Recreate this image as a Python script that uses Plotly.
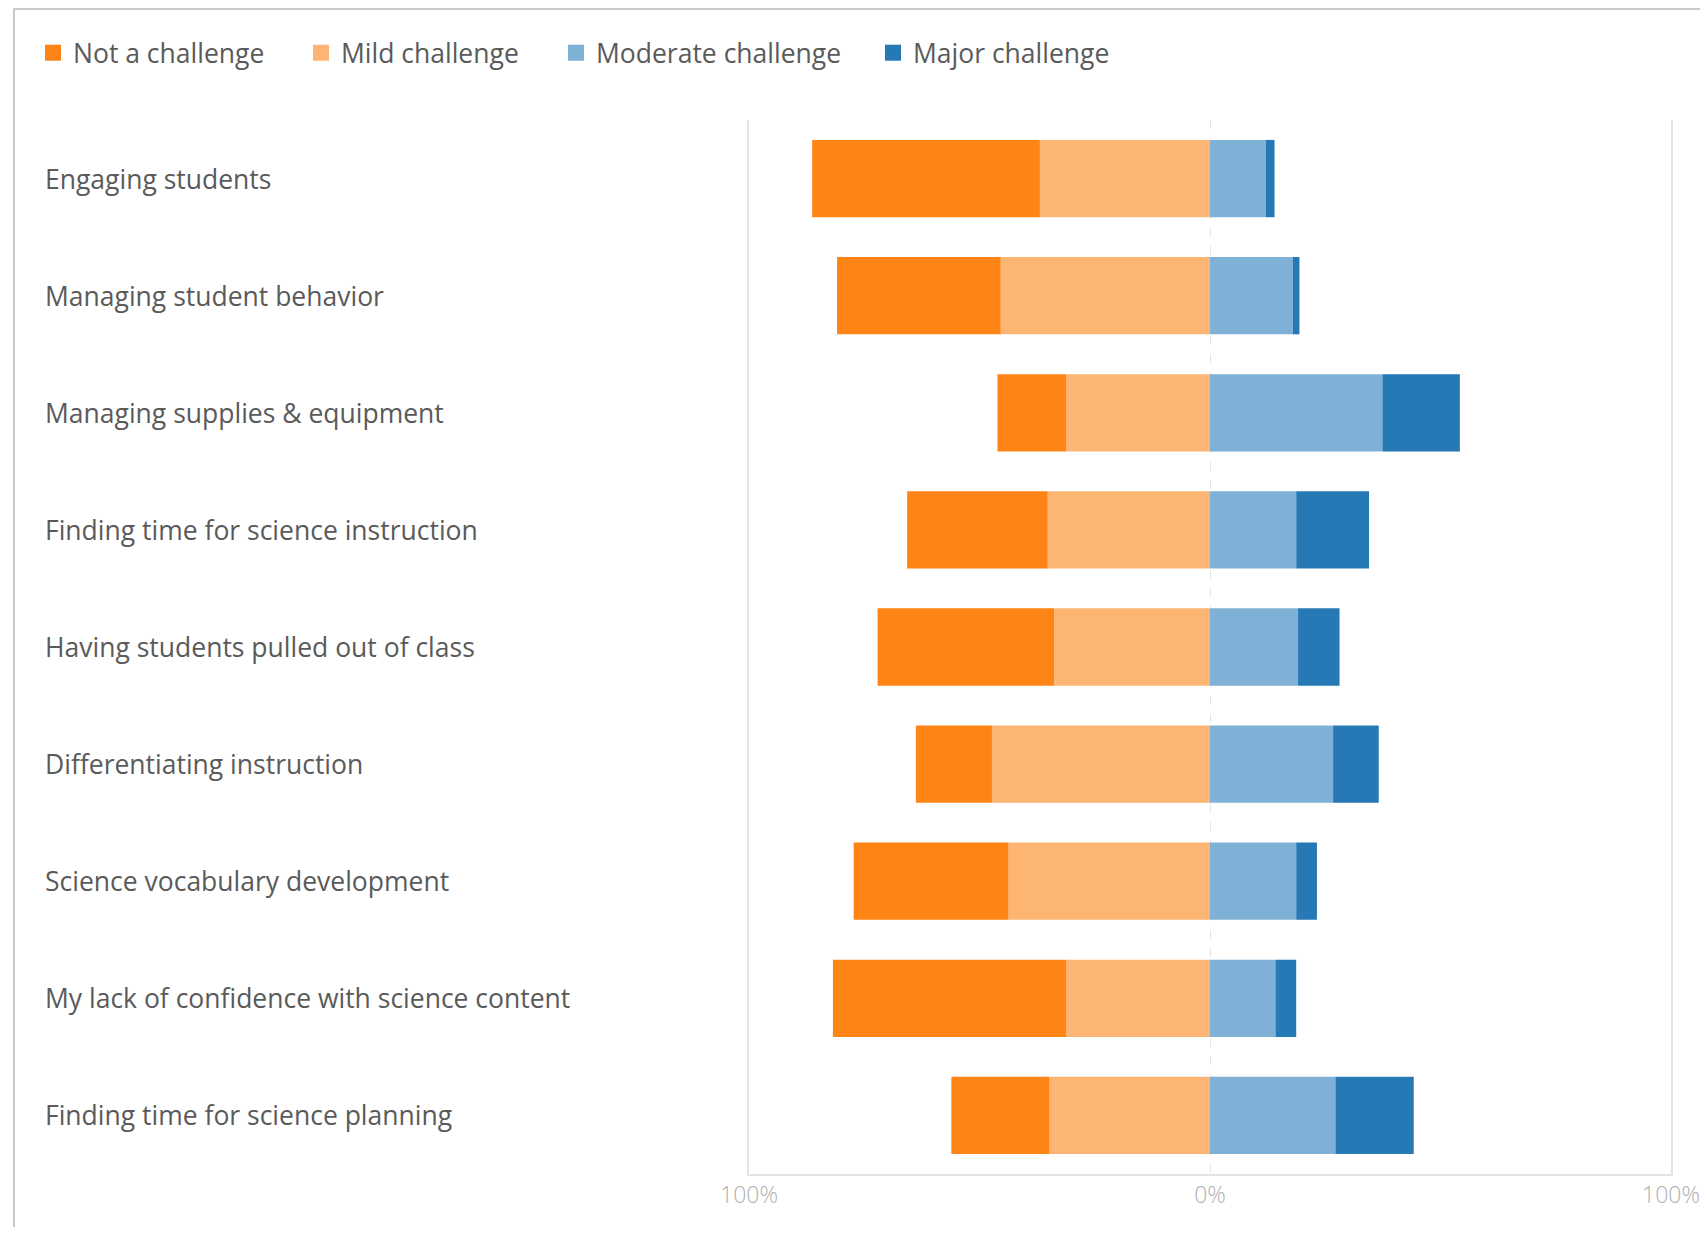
import plotly.graph_objects as go

categories = [
    "Engaging students",
    "Managing student behavior",
    "Managing supplies & equipment",
    "Finding time for science instruction",
    "Having students pulled out of class",
    "Differentiating instruction",
    "Science vocabulary development",
    "My lack of confidence with science content",
    "Finding time for science planning",
]
not_a_challenge = [49.4, 35.5, 14.9, 30.5, 38.3, 16.5, 33.6, 50.6, 21.3]
mild_challenge = [36.9, 45.4, 31.2, 35.2, 33.8, 47.3, 43.7, 31.2, 34.8]
moderate_challenge = [12.1, 18.0, 37.4, 18.7, 19.1, 26.7, 18.7, 14.2, 27.2]
major_challenge = [1.9, 1.4, 16.8, 15.8, 9.0, 9.9, 4.5, 4.5, 17.0]
series_names = ["Not a challenge", "Mild challenge", "Moderate challenge", "Major challenge"]
tick_vals = [-100, 0, 100]
tick_text = ["100%", "0%", "100%"]

C_NOT = "#FF8416"
C_MILD = "#FDB573"
C_MOD = "#7FB0D5"
C_MAJ = "#2779B5"
colors = [C_NOT, C_MILD, C_MOD, C_MAJ]

# page has an 8px body margin; figure fills the rest of the 1708x1235 window
OFF = 8
W, H = 1708 - 2 * OFF, 1235 - 2 * OFF
L = 749 - OFF
T = 120 - OFF
R = W - (1671 - OFF)
B = H - (1174 - OFF)
pw = W - L - R
ph = H - T - B

FONT = "Open Sans"
TXT = "#5a5a5a"
FS = 26.5


def px_x(x):
    return (x - OFF - L) / pw


def px_y(y):
    return (H - B - (y - OFF)) / ph


fig = go.Figure()
# negative side: the trace nearest zero must be added first
fig.add_trace(go.Bar(y=categories, x=[-v for v in mild_challenge], name=series_names[1],
                     orientation="h", marker=dict(color=C_MILD, line=dict(width=0)),
                     showlegend=False, customdata=mild_challenge,
                     hovertemplate="%{y}<br>Mild challenge: %{customdata}%<extra></extra>"))
fig.add_trace(go.Bar(y=categories, x=[-v for v in not_a_challenge], name=series_names[0],
                     orientation="h", marker=dict(color=C_NOT, line=dict(width=0)),
                     showlegend=False, customdata=not_a_challenge,
                     hovertemplate="%{y}<br>Not a challenge: %{customdata}%<extra></extra>"))
fig.add_trace(go.Bar(y=categories, x=moderate_challenge, name=series_names[2],
                     orientation="h", marker=dict(color=C_MOD, line=dict(width=0)),
                     showlegend=False,
                     hovertemplate="%{y}<br>Moderate challenge: %{x}%<extra></extra>"))
fig.add_trace(go.Bar(y=categories, x=major_challenge, name=series_names[3],
                     orientation="h", marker=dict(color=C_MAJ, line=dict(width=0)),
                     showlegend=False,
                     hovertemplate="%{y}<br>Major challenge: %{x}%<extra></extra>"))

# legend entries (square swatches), each in its own legend box
legend_keys = ["legend", "legend2", "legend3", "legend4"]
legend_left = [45, 313, 568, 885]  # page px of swatch left edge
for name, col, key in zip(series_names, colors, legend_keys):
    fig.add_trace(go.Scatter(x=[None], y=[None], mode="markers", name=name,
                             marker=dict(symbol="square", size=16, color=col),
                             legend=key, showlegend=True, hoverinfo="skip"))

legend_layout = {}
for key, lx in zip(legend_keys, legend_left):
    legend_layout[key] = dict(
        orientation="h", x=px_x(lx - 12), xanchor="left",
        y=px_y(53), yanchor="middle",
        font=dict(family=FONT, size=FS, color=TXT),
        itemwidth=30, bgcolor="rgba(0,0,0,0)", borderwidth=0,
        itemclick=False, itemdoubleclick=False,
    )

annotations = []
for c in categories:
    annotations.append(dict(
        x=0, xref="paper", y=c, yref="y", text=c, showarrow=False,
        xanchor="left", yanchor="middle", xshift=(46 - OFF) - L - 3,
        font=dict(family=FONT, size=FS, color=TXT),
    ))

fig.update_layout(
    width=W, height=H,
    margin=dict(l=L, r=R, t=T, b=B, autoexpand=False),
    paper_bgcolor="white", plot_bgcolor="white",
    barmode="relative", bargap=0.34,
    font=dict(family=FONT, color=TXT),
    showlegend=True,
    xaxis=dict(
        range=[-100, 100], tickvals=tick_vals, ticktext=tick_text,
        showgrid=True, gridcolor="#e4e4e4", griddash="dash", gridwidth=1,
        zeroline=False, showline=True, linecolor="#e4e4e4", linewidth=1.5,
        ticks="", tickfont=dict(family=FONT, size=23, color="#b0b0b0", weight=300),
        fixedrange=True,
    ),
    yaxis=dict(
        categoryorder="array", categoryarray=categories, autorange="reversed",
        showticklabels=False, ticks="", showgrid=False, zeroline=False,
        showline=True, mirror=True, linecolor="#e4e4e4", linewidth=1.5,
        fixedrange=True,
    ),
    annotations=annotations,
    shapes=[
        dict(type="rect", xref="paper", yref="paper",
             x0=px_x(14), x1=px_x(1708 + 30),
             y0=px_y(1235 + 30), y1=px_y(OFF + 1),
             line=dict(color="#c9c9c9", width=2), fillcolor="rgba(0,0,0,0)",
             layer="below"),
    ],
    **legend_layout,
)

fig.write_html("out.html")
